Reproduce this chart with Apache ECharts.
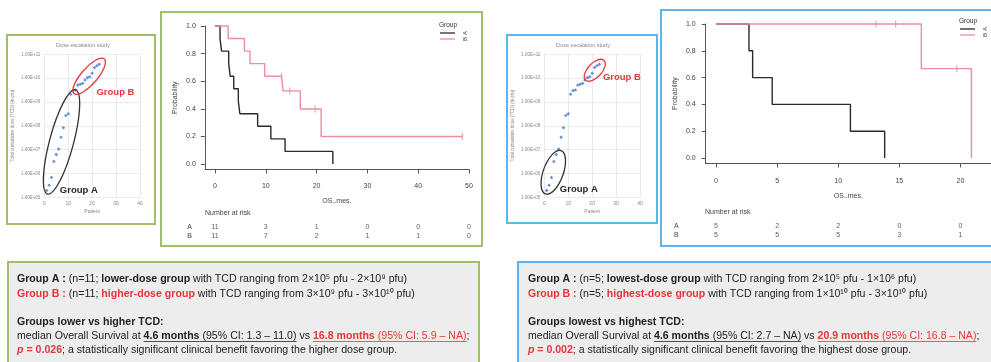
<!DOCTYPE html>
<html><head><meta charset="utf-8">
<script src="https://cdn.jsdelivr.net/npm/echarts@6/dist/echarts.min.js"></script>
<style>html,body{margin:0;padding:0;background:#fff}#c{width:991px;height:362px}</style>
</head><body><div id="c"></div>
<script>
// ---------------- data ----------------
// dose escalation scatter (same cohort shown in both panels)
const patients = [1,2,3,4,5,6,7,8,9,10,11,12,13,14,15,16,17,18,19,20,21,22,23];
const doseTCD = [1.95e5,3.2e5,6.8e5,3.2e6,6.2e6,1.07e7,3.3e7,8.3e7,2.7e8,3.2e8,2.1e9,3.0e9,3.2e9,5.1e9,5.5e9,6.0e9,8.3e9,1.05e10,1.15e10,1.6e10,2.8e10,3.3e10,3.8e10];
const scatterXTicks = [0,10,20,30,40];

// KM left: lower vs higher dose
const timeLA = [0,1.0,1.3,2.7,3.0,3.7,4.6,4.9,8.4,11.0,13.8,23.2];
const survLA = [1,0.909,0.818,0.727,0.636,0.545,0.455,0.364,0.273,0.182,0.091,0];
const timeLB = [0,2.6,5.8,6.9,9.8,13.1,13.4,14.7,16.8,19.7,20.9,48.7];
const survLB = [1,0.909,0.818,0.727,0.636,0.636,0.530,0.530,0.398,0.398,0.199,0.199];
const censorTimeLB = [13.1,14.7,19.7,48.7];
const censorSurvLB = [0.636,0.530,0.398,0.199];
const kmTicksL = [0,10,20,30,40,50];
const riskAL = [11,3,1,0,0,0];
const riskBL = [11,7,2,1,1,0];

// KM right: lowest vs highest dose
const timeRA = [0,2.7,3.0,4.6,11.0,13.8];
const survRA = [1,0.8,0.6,0.4,0.2,0];
const timeRB = [0,13.1,14.7,16.8,19.7,20.9];
const survRB = [1,1,1,0.667,0.667,0];
const censorTimeRB = [13.1,14.7,19.7];
const censorSurvRB = [1,1,0.667];
const kmTicksR = [0,5,10,15,20];
const riskAR = [5,2,2,0,0];
const riskBR = [5,5,5,3,1];

const probTicks = [0,0.2,0.4,0.6,0.8,1.0];
const groups = ['B','A'];

// ---------------- styling ----------------
const F = 'Liberation Sans';
const AX = '#555';
const BLK = '#2a2a2a';
const PINK = '#ec8e9d';
const RED = '#e8343c';
const GREEN = '#9fbf69';
const BLUE = '#5cb6e6';

const chart = echarts.init(document.getElementById('c'));

function scatterAxes(gi){
  return {
    x:{gridIndex:gi,type:'value',min:0,max:40,interval:10,
       axisLine:{show:false},axisTick:{show:false},
       splitLine:{show:true,lineStyle:{color:'#dcdcdc',width:0.6}},
       axisLabel:{fontSize:5,color:'#888',fontFamily:F,margin:4},
       name:'Patient',nameLocation:'middle',nameGap:12,nameTextStyle:{fontSize:5,color:'#888',fontFamily:F}},
    y:{gridIndex:gi,type:'log',logBase:10,min:1e5,max:1e11,
       axisLine:{show:false},axisTick:{show:false},
       splitLine:{show:true,lineStyle:{color:'#dcdcdc',width:0.6}},
       axisLabel:{fontSize:4.5,color:'#888',fontFamily:F,margin:4,
         formatter:v=>{const e=Math.round(Math.log10(v));return '1.00E+'+(e<10?'0'+e:e);}},
       name:'Total cumulative dose (TCD) (in pfu)',nameLocation:'middle',nameGap:29,nameRotate:90,
       nameTextStyle:{fontSize:4.5,color:'#888',fontFamily:F}}
  };
}
function kmAxes(gi,xmin,xmax,ticks,lblMarginX,lblMarginY,nameGapX,nameGapY){
  return {
    x:{gridIndex:gi,type:'value',min:xmin,max:xmax,
       axisLine:{show:true,onZero:false,lineStyle:{color:AX,width:1}},
       axisTick:{show:true,customValues:ticks,length:4,lineStyle:{color:AX}},
       axisLabel:{customValues:ticks,fontSize:7,color:'#444',fontFamily:F,margin:lblMarginX},
       splitLine:{show:false},
       name:'OS..mes.',nameLocation:'middle',nameGap:nameGapX,nameTextStyle:{fontSize:7,color:'#444',fontFamily:F}},
    y:{gridIndex:gi,type:'value',min:-0.04,max:1.0,
       axisLine:{show:true,onZero:false,lineStyle:{color:AX,width:1}},
       axisTick:{show:true,customValues:probTicks,length:4,lineStyle:{color:AX}},
       axisLabel:{customValues:probTicks,fontSize:7,color:'#444',fontFamily:F,margin:lblMarginY,formatter:v=>v.toFixed(1)},
       splitLine:{show:false},
       name:'Probability',nameLocation:'middle',nameGap:nameGapY,nameRotate:90,nameTextStyle:{fontSize:7,color:'#444',fontFamily:F}}
  };
}
function riskAxes(gi,xmin,xmax,margin){
  return {
    x:{gridIndex:gi,type:'value',min:xmin,max:xmax,show:false},
    y:{gridIndex:gi,type:'category',data:groups,axisLine:{show:false},axisTick:{show:false},
       axisLabel:{fontSize:7,color:'#444',fontFamily:F,margin:margin}}
  };
}
const a0=scatterAxes(0), a1=kmAxes(1,-2,50,kmTicksL,13,9,28,26), a2=riskAxes(2,-2,50,13);
const a3=scatterAxes(3), a4=kmAxes(4,-0.84,22.5,kmTicksR,14,10,29,27), a5=riskAxes(5,-0.84,22.5,27);

function stepLine(xi,t,s,color){
  return {type:'line',xAxisIndex:xi,yAxisIndex:xi,step:'end',showSymbol:false,clip:false,
    data:t.map((v,i)=>[v,s[i]]),lineStyle:{color:color,width:1.4},itemStyle:{color:color},z:3};
}
function censor(xi,t,s){
  return {type:'scatter',xAxisIndex:xi,yAxisIndex:xi,symbol:'rect',symbolSize:[1.2,7],clip:false,
    data:t.map((v,i)=>[v,s[i]]),itemStyle:{color:PINK},z:4};
}
function risk(xi,ticks,vals,g){
  return {type:'scatter',xAxisIndex:xi,yAxisIndex:xi,symbolSize:1,itemStyle:{color:'transparent'},
    data:ticks.map((t,i)=>[t,g,vals[i]]),
    label:{show:true,position:'inside',formatter:p=>String(p.value[2]),fontSize:7,color:'#333',fontFamily:F}};
}
function dots(xi){
  return {type:'scatter',xAxisIndex:xi,yAxisIndex:xi,symbol:'diamond',symbolSize:3.6,
    data:patients.map((p,i)=>[p,doseTCD[i]]),itemStyle:{color:'#4574c4'}};
}

chart.setOption({
  animation:false,
  grid:[
    {left:44.3,top:54.3,width:95.7,height:143},
    {left:204.8,top:26,width:264.2,height:143.5},
    {left:204.8,top:222,width:264.2,height:19},
    {left:544.3,top:54.3,width:95.7,height:143},
    {left:705.7,top:24,width:299.5,height:139.4},
    {left:705.7,top:221,width:299.5,height:19}
  ],
  xAxis:[a0.x,a1.x,a2.x,a3.x,a4.x,a5.x],
  yAxis:[a0.y,a1.y,a2.y,a3.y,a4.y,a5.y],
  series:[
    dots(0),
    stepLine(1,timeLA,survLA,BLK), stepLine(1,timeLB,survLB,PINK), censor(1,censorTimeLB,censorSurvLB),
    risk(2,kmTicksL,riskAL,'A'), risk(2,kmTicksL,riskBL,'B'),
    dots(3),
    stepLine(4,timeRA,survRA,BLK), stepLine(4,timeRB,survRB,PINK), censor(4,censorTimeRB,censorSurvRB),
    risk(5,kmTicksR,riskAR,'A'), risk(5,kmTicksR,riskBR,'B')
  ]
});

// ---------------- annotations / frames / text ----------------
const g = [];
function rect(x,y,w,h,stroke,fill,z){g.push({type:'rect',shape:{x,y,width:w,height:h},style:{fill:fill||'none',stroke,lineWidth:2},z:z||0,silent:true});}
function txt(x,y,s,opt){
  opt=opt||{};
  g.push({type:'text',x,y,rotation:opt.rot||0,z:opt.z||20,silent:true,
    style:{text:s,font:opt.font||('7px "'+F+'"'),fill:opt.fill||'#444',
      textAlign:opt.align||'left',textVerticalAlign:'middle',align:opt.align||'left',verticalAlign:'middle'}});
}
function seg(x1,y1,x2,y2,c,w){g.push({type:'line',shape:{x1,y1,x2,y2},style:{stroke:c,lineWidth:w||1.4},z:20,silent:true});}

// frames
rect(7,35,148,189,GREEN);
rect(161,12,321,234,GREEN);
rect(8,262,471,120,GREEN,'#ededed',1);
rect(507,35,150,188,BLUE);
rect(661,10,345,236,BLUE);
rect(518,262,490,120,BLUE,'#ededed',1);

// scatter titles
txt(83,45,'Dose escalation study',{font:'5.5px "'+F+'"',fill:'#888',align:'center'});
txt(583,45,'Dose escalation study',{font:'5.5px "'+F+'"',fill:'#888',align:'center'});

// ellipses + group labels placed in data coordinates
const rings = [
  {grid:0,at:[7.2,2.1e7],rx:54,ry:12,rot:75,c:'#333'},
  {grid:0,at:[18.75,1.2e10],rx:23,ry:8,rot:49,c:RED},
  {grid:3,at:[3.75,1.12e6],rx:23,ry:10,rot:70,c:'#333'},
  {grid:3,at:[21.1,2.14e10],rx:13.5,ry:7,rot:47,c:RED}
];
rings.forEach(r=>{
  const p=chart.convertToPixel({gridIndex:r.grid},r.at);
  g.push({type:'ellipse',x:p[0],y:p[1],rotation:r.rot*Math.PI/180,shape:{cx:0,cy:0,rx:r.rx,ry:r.ry},
    style:{fill:'none',stroke:r.c,lineWidth:1.3},z:15,silent:true});
});
const tags = [
  {grid:0,at:[6.5,2.0e5],t:'Group A',c:'#262626'},
  {grid:0,at:[21.8,2.6e9],t:'Group B',c:RED},
  {grid:3,at:[6.5,2.2e5],t:'Group A',c:'#262626'},
  {grid:3,at:[24.5,1.05e10],t:'Group B',c:RED}
];
tags.forEach(t=>{
  const p=chart.convertToPixel({gridIndex:t.grid},t.at);
  txt(p[0],p[1],t.t,{font:'bold 9.5px "'+F+'"',fill:t.c});
});

// KM legends
function kmLegend(x,y){
  txt(x+8,y,'Group',{font:'6.5px "'+F+'"',fill:'#333',align:'center'});
  seg(x,y+8,x+15,y+8,BLK,1.3);
  seg(x,y+14,x+15,y+14,PINK,1.3);
  txt(x+25,y+8,'A',{font:'6px "'+F+'"',fill:'#333',align:'center',rot:Math.PI/2});
  txt(x+25,y+14,'B',{font:'6px "'+F+'"',fill:'#333',align:'center',rot:Math.PI/2});
}
kmLegend(440,25);
kmLegend(960,21);
txt(205,213,'Number at risk',{font:'7px "'+F+'"',fill:'#444'});
txt(705,212,'Number at risk',{font:'7px "'+F+'"',fill:'#444'});

// text boxes
const cv=document.createElement('canvas').getContext('2d');
function fstr(sz,s){return (s.i?'italic ':'')+(s.b?'bold ':'')+sz.toFixed(2)+'px "'+F+'"';}
function lineW(line,sz){return line.reduce((w,s)=>{cv.font=fstr(sz,s);return w+cv.measureText(s.t).width;},0);}
function textBox(x0,ys,lines,fitIdx,target){
  const sz=10*target/lineW(lines[fitIdx],10);
  lines.forEach((line,li)=>{
    let x=x0; const y=ys[li];
    line.forEach(s=>{
      cv.font=fstr(sz,s); const w=cv.measureText(s.t).width;
      const col=s.r?RED:'#222';
      g.push({type:'text',x,y,z:20,silent:true,style:{text:s.t,font:fstr(sz,s),fill:col,textVerticalAlign:'middle',verticalAlign:'middle'}});
      if(s.u) seg(x,y+sz*0.52,x+w,y+sz*0.52,col,0.8);
      x+=w;
    });
  });
}
const ys=[279,294,322,336,350];
textBox(17,ys,[
  [{t:'Group A :',b:1},{t:' (n=11; '},{t:'lower-dose group',b:1},{t:' with TCD ranging from 2×10⁵ pfu - 2×10⁹ pfu)'}],
  [{t:'Group B :',b:1,r:1},{t:' (n=11; '},{t:'higher-dose group',b:1,r:1},{t:' with TCD ranging from 3×10⁹ pfu - 3×10¹⁰ pfu)'}],
  [{t:'Groups lower vs higher TCD:',b:1}],
  [{t:'median Overall Survival at '},{t:'4.6 months',b:1,u:1},{t:' (95% CI: 1.3 – 11.0)',u:1},{t:' vs '},{t:'16.8 months',b:1,u:1,r:1},{t:' (95% CI: 5.9 – NA)',u:1,r:1},{t:';'}],
  [{t:'p',b:1,i:1,r:1},{t:' = 0.026',b:1,r:1},{t:'; a statistically significant clinical benefit favoring the higher dose group.'}]
],3,453);
textBox(528,ys,[
  [{t:'Group A :',b:1},{t:' (n=5; '},{t:'lowest-dose group',b:1},{t:' with TCD ranging from 2×10⁵ pfu - 1×10⁶ pfu)'}],
  [{t:'Group B :',b:1,r:1},{t:' (n=5; '},{t:'highest-dose group',b:1,r:1},{t:' with TCD ranging from 1×10¹⁰ pfu - 3×10¹⁰ pfu)'}],
  [{t:'Groups lowest vs highest TCD:',b:1}],
  [{t:'median Overall Survival at '},{t:'4.6 months',b:1,u:1},{t:' (95% CI: 2.7 – NA)',u:1},{t:' vs '},{t:'20.9 months',b:1,u:1,r:1},{t:' (95% CI: 16.8 – NA)',u:1,r:1},{t:';'}],
  [{t:'p',b:1,i:1,r:1},{t:' = 0.002',b:1,r:1},{t:'; a statistically significant clinical benefit favoring the highest dose group.'}]
],3,452);

chart.setOption({graphic:g});
</script>
</body></html>
